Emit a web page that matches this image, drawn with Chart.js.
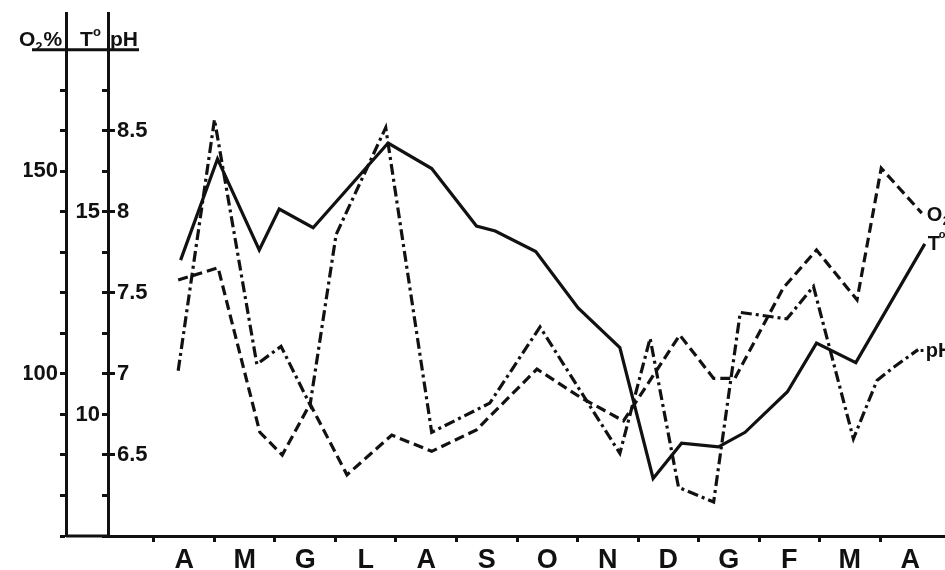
<!DOCTYPE html>
<html>
<head>
<meta charset="utf-8">
<script src="https://cdn.jsdelivr.net/npm/chart.js@4.4.1/dist/chart.umd.min.js"></script>
<style>
  body { margin: 0; background: #fff; }
  canvas { display: block; }
</style>
</head>
<body>
<canvas id="chart" width="945" height="570"></canvas>
<script>
// months from April to April (Italian initials)
const months = ['A', 'M', 'G', 'L', 'A', 'S', 'O', 'N', 'D', 'G', 'F', 'M', 'A'];

// x values are in months counted from the start of April
const tempX = [0.44, 1.05, 1.74, 2.07, 2.63, 3.87, 4.59, 5.33, 5.64, 6.31, 7.01, 7.70, 8.25, 8.72, 9.33, 9.77, 10.47, 10.95, 11.60, 12.74];
const tempVals = [13.81, 16.31, 14.06, 15.07, 14.61, 16.70, 16.07, 14.65, 14.53, 14.02, 12.63, 11.65, 8.42, 9.29, 9.20, 9.56, 10.56, 11.76, 11.28, 14.21];

const oxyX = [0.40, 1.06, 1.75, 2.12, 2.58, 3.19, 3.93, 4.59, 5.33, 6.33, 7.04, 7.76, 8.69, 9.25, 9.60, 10.40, 10.95, 11.62, 12.02, 12.69];
const oxyVals = [123.2, 126.2, 85.6, 80.0, 92.6, 75.1, 84.9, 80.9, 86.2, 101.2, 94.3, 88.4, 109.6, 98.9, 98.9, 121.2, 130.6, 118.3, 150.8, 139.7];

const phX = [0.40, 1.00, 1.70, 2.10, 2.58, 3.01, 3.83, 4.59, 5.55, 6.38, 7.70, 8.20, 8.67, 9.25, 9.69, 10.46, 10.90, 11.56, 11.95, 12.22, 12.63];
const phVals = [7.02, 8.57, 7.06, 7.17, 6.81, 7.86, 8.52, 6.64, 6.82, 7.29, 6.51, 7.22, 6.30, 6.21, 7.38, 7.34, 7.54, 6.60, 6.96, 7.04, 7.15];

// axis ticks
const o2Ticks = [60, 70, 80, 90, 100, 110, 120, 130, 140, 150, 160, 170];
const o2Labels = [100, 150];
const tTicks = [7, 8, 9, 10, 11, 12, 13, 14, 15, 16, 17, 18];
const tLabels = [10, 15];
const phTicks = [6.5, 7, 7.5, 8, 8.5];

const FONT = 'Liberation Sans, Arial, sans-serif';
const INK = '#111';

// the three y scales share one grid: 1 degree = 10 % O2 = 0.25 pH
const T_MIN = 7, T_MAX = 19.91;
const X_MIN = -0.76, X_MAX = 13.074;

function pts(xs, ys) {
    return xs.map((x, i) => ({ x: x, y: ys[i] }));
}

// keep the plot area where it is, labels never push it
function noOverflow(s) {
    s.paddingTop = 0;
    s.paddingBottom = 0;
    s.paddingLeft = 0;
    s.paddingRight = 0;
}

function yAxis(min, max, ticks, labelFn, width, weight) {
    return {
        type: 'linear',
        position: 'left',
        min: min,
        max: max,
        weight: weight,
        afterBuildTicks: s => { s.ticks = ticks.map(v => ({ value: v })); },
        afterFit: s => { s.width = width; noOverflow(s); },
        ticks: {
            color: INK,
            font: { family: FONT, size: 22, weight: 'bold' },
            padding: 2,
            callback: labelFn
        },
        grid: {
            drawOnChartArea: false,
            tickLength: 6,
            tickWidth: 3,
            tickColor: INK
        },
        border: { color: INK, width: 3 }
    };
}

// header, top bar, x axis extension and series names
const decorations = {
    id: 'decorations',
    afterDraw(chart) {
        const ctx = chart.ctx;
        const ya = chart.scales.t;
        const area = chart.chartArea;
        const barY = ya.getPixelForValue(19);
        ctx.save();
        ctx.strokeStyle = INK;
        ctx.fillStyle = INK;
        ctx.lineWidth = 3;
        ctx.beginPath();
        ctx.moveTo(32, barY);
        ctx.lineTo(139, barY);
        ctx.moveTo(chart.scales.o2.right, area.bottom);
        ctx.lineTo(area.left, area.bottom);
        ctx.stroke();

        ctx.textBaseline = 'alphabetic';
        ctx.font = 'bold 21px ' + FONT;
        ctx.fillText('O', 19, barY - 4);
        let w = ctx.measureText('O').width;
        ctx.font = 'bold 13px ' + FONT;
        ctx.fillText('2', 19 + w, barY + 1);
        let w2 = ctx.measureText('2').width;
        ctx.font = 'bold 21px ' + FONT;
        ctx.fillText('%', 20 + w + w2, barY - 4);
        ctx.fillText('T', 80, barY - 4);
        ctx.font = 'bold 13px ' + FONT;
        ctx.fillText('o', 93, barY - 14);
        ctx.font = 'bold 21px ' + FONT;
        ctx.fillText('pH', 110, barY - 4);

        // names at the end of each line
        const xs = chart.scales.x;
        const oy = chart.scales.o2.getPixelForValue(oxyVals[oxyVals.length - 1]);
        const ox = xs.getPixelForValue(oxyX[oxyX.length - 1]);
        ctx.font = 'bold 20px ' + FONT;
        ctx.fillText('O', ox + 5, oy + 8);
        ctx.font = 'bold 12px ' + FONT;
        ctx.fillText('2', ox + 21, oy + 12);
        const ty = ya.getPixelForValue(tempVals[tempVals.length - 1]);
        const tx = xs.getPixelForValue(tempX[tempX.length - 1]);
        ctx.font = 'bold 20px ' + FONT;
        ctx.fillText('T', tx + 3, ty + 6);
        ctx.font = 'bold 11px ' + FONT;
        ctx.fillText('o', tx + 14, ty - 6);
        const py = chart.scales.ph.getPixelForValue(phVals[phVals.length - 1]);
        const px = xs.getPixelForValue(phX[phX.length - 1]);
        ctx.font = 'bold 20px ' + FONT;
        ctx.fillText('·pH', px + 1, py + 7);
        ctx.restore();
    }
};

const ctx = document.getElementById('chart').getContext('2d');

const chart = new Chart(ctx, {
    type: 'line',
    data: {
        datasets: [
            {
                label: 'T°',
                data: pts(tempX, tempVals),
                yAxisID: 't',
                borderColor: INK,
                borderWidth: 3.2
            },
            {
                label: 'O2%',
                data: pts(oxyX, oxyVals),
                yAxisID: 'o2',
                borderColor: INK,
                borderWidth: 3.2,
                borderDash: [10, 5]
            },
            {
                label: 'pH',
                data: pts(phX, phVals),
                yAxisID: 'ph',
                borderColor: INK,
                borderWidth: 3.2,
                borderDash: [11, 4, 3, 4]
            }
        ]
    },
    options: {
        responsive: false,
        animation: false,
        devicePixelRatio: 1,
        layout: { padding: { left: 24, top: 13, right: 0, bottom: 0 } },
        elements: {
            point: { radius: 0 },
            line: { tension: 0, borderJoinStyle: 'miter', borderCapStyle: 'butt', fill: false }
        },
        plugins: {
            legend: { display: false },
            tooltip: { enabled: false },
            title: { display: false }
        },
        scales: {
            x: {
                type: 'linear',
                position: 'bottom',
                min: X_MIN,
                max: X_MAX,
                weight: 0,
                afterBuildTicks: s => { s.ticks = months.map((m, i) => ({ value: i })); },
                afterFit: s => { s.height = 0; noOverflow(s); },
                ticks: { display: false },
                grid: {
                    drawOnChartArea: false,
                    tickLength: 6,
                    tickWidth: 3,
                    tickColor: INK
                },
                border: { color: INK, width: 3 }
            },
            xl: {
                type: 'linear',
                position: 'bottom',
                min: X_MIN,
                max: X_MAX,
                weight: 1,
                afterBuildTicks: s => { s.ticks = months.map((m, i) => ({ value: i + 0.5 })); },
                afterFit: s => { s.height = 34; noOverflow(s); },
                ticks: {
                    autoSkip: false,
                    maxRotation: 0,
                    padding: 0,
                    color: INK,
                    font: { family: FONT, size: 27, weight: 'bold' },
                    callback: (v, i) => months[i]
                },
                grid: { display: false },
                border: { display: false }
            },
            o2: yAxis(60, 60 + (T_MAX - T_MIN) * 10, o2Ticks,
                v => o2Labels.includes(v) ? String(v) : '', 42, 2),
            t: yAxis(T_MIN, T_MAX, tTicks,
                v => tLabels.includes(v) ? String(v) : '', 42, 1),
            ph: {
                type: 'linear',
                position: 'left',
                min: 6,
                max: 6 + (T_MAX - T_MIN) / 4,
                weight: 0,
                afterBuildTicks: s => { s.ticks = phTicks.map(v => ({ value: v })); },
                afterFit: s => { s.width = 0; noOverflow(s); },
                ticks: {
                    mirror: true,
                    padding: 9,
                    color: INK,
                    font: { family: FONT, size: 22, weight: 'bold' },
                    callback: v => String(v)
                },
                grid: {
                    drawOnChartArea: false,
                    tickLength: -7,
                    tickWidth: 3,
                    tickColor: INK
                },
                border: { display: false }
            }
        }
    },
    plugins: [decorations]
});
</script>
</body>
</html>
